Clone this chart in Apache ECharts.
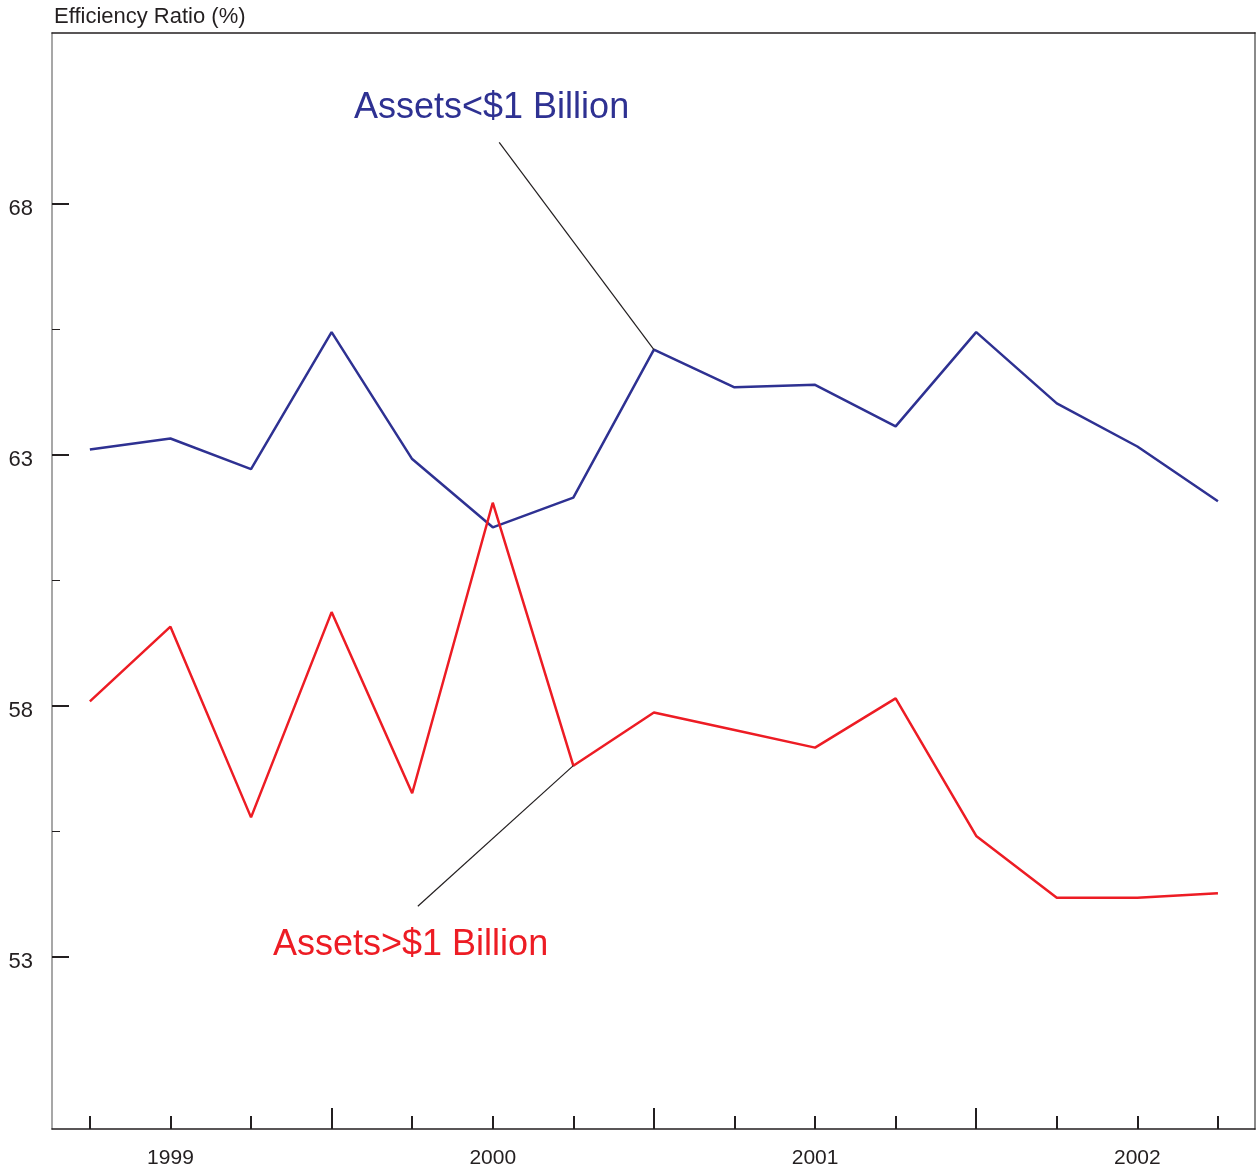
<!DOCTYPE html>
<html>
<head>
<meta charset="utf-8">
<script src="https://cdn.jsdelivr.net/npm/echarts@6/dist/echarts.min.js"></script>
<style>
html,body{margin:0;padding:0;background:#fff;}
#chart{width:1257px;height:1171px;}
</style>
</head>
<body>
<div id="chart"></div>
<script>
// Quarterly index 0 = 1998 Q4 ... 14 = 2002 Q2
const quarters = [0,1,2,3,4,5,6,7,8,9,10,11,12,13,14];
const smallBanks = [63.11,63.33,62.72,65.45,62.92,61.56,62.15,65.10,64.35,64.40,63.57,65.45,64.03,63.17,62.08];
const largeBanks = [58.09,59.58,55.78,59.87,56.26,62.05,56.81,57.87,57.52,57.17,58.15,55.41,54.18,54.18,54.27];
const yearLabels = ["1999","2000","2001","2002"];
const yearLabelPos = [1,5,9,13];
const shortTickPos = [0,1,2,4,5,6,8,9,10,12,13,14];
const longTickPos = [3,7,11];
const yMajor = [53,58,63,68];
const yMinor = [55.5,60.5,65.5];
const smallLabel = "Assets<$1 Billion";
const largeLabel = "Assets>$1 Billion";
const smallLeader = [[5.08,69.23],[7,65.10]];
const largeLeader = [[4.07,54.01],[6,56.81]];

const FONT = "'Liberation Sans', Arial, Helvetica, sans-serif";
const DARK = '#231f20';
const BLUE = '#2e3192';
const RED = '#ed1c24';
const XMIN = -0.47, XMAX = 14.46, YMIN = 49.57, YMAX = 71.41;

const chart = echarts.init(document.getElementById('chart'));
const option = {
  animation: false,
  backgroundColor: '#fff',
  title: {
    text: 'Efficiency Ratio (%)',
    left: 49, top: 1,
    textStyle: {fontFamily: FONT, fontSize: 22, fontWeight: 'normal', color: DARK}
  },
  grid: {left: 52, right: 2, top: 33, bottom: 42},
  xAxis: [
    {
      type: 'value', min: XMIN, max: XMAX, position: 'bottom',
      axisLine: {show: true, onZero: false, lineStyle: {color: DARK, width: 1.5}},
      axisTick: {show: true, inside: true, length: 13, customValues: shortTickPos, lineStyle: {color: DARK, width: 2}},
      axisLabel: {
        show: true, customValues: yearLabelPos, margin: 19,
        fontFamily: FONT, fontSize: 21, color: DARK,
        formatter: v => yearLabels[yearLabelPos.indexOf(Math.round(v))] || ''
      },
      splitLine: {show: false}
    },
    {
      type: 'value', min: XMIN, max: XMAX, position: 'bottom',
      axisLine: {show: false, onZero: false},
      axisTick: {show: true, inside: true, length: 21, customValues: longTickPos, lineStyle: {color: DARK, width: 2}},
      axisLabel: {show: false},
      splitLine: {show: false}
    },
    {
      type: 'value', min: XMIN, max: XMAX, position: 'top',
      axisLine: {show: true, onZero: false, lineStyle: {color: DARK, width: 1.5}},
      axisTick: {show: false}, axisLabel: {show: false}, splitLine: {show: false}
    }
  ],
  yAxis: [
    {
      type: 'value', min: YMIN, max: YMAX, position: 'left',
      axisLine: {show: true, onZero: false, lineStyle: {color: '#8a8a8a', width: 1.5}},
      axisTick: {show: true, inside: true, length: 17, customValues: yMajor, lineStyle: {color: DARK, width: 2}},
      axisLabel: {
        show: true, customValues: yMajor, margin: 19,
        formatter: v => '{v|' + v + '}',
        rich: {v: {fontFamily: FONT, fontSize: 22, color: DARK, padding: [10, 0, 0, 0]}}
      },
      splitLine: {show: false}
    },
    {
      type: 'value', min: YMIN, max: YMAX, position: 'left',
      axisLine: {show: false, onZero: false},
      axisTick: {show: true, inside: true, length: 8, customValues: yMinor, lineStyle: {color: DARK, width: 1}},
      axisLabel: {show: false},
      splitLine: {show: false}
    },
    {
      type: 'value', min: YMIN, max: YMAX, position: 'right',
      axisLine: {show: true, onZero: false, lineStyle: {color: '#8a8a8a', width: 2}},
      axisTick: {show: false}, axisLabel: {show: false}, splitLine: {show: false}
    }
  ],
  series: [
    {
      name: smallLabel, type: 'line', xAxisIndex: 0, yAxisIndex: 0,
      data: quarters.map((q, i) => [q, smallBanks[i]]),
      showSymbol: false, symbol: 'none',
      lineStyle: {color: BLUE, width: 2.5}, z: 3,
      markLine: {
        silent: true, symbol: ['none','none'], label: {show: false},
        lineStyle: {color: DARK, width: 1.2, type: 'solid'},
        data: [[{coord: smallLeader[0]}, {coord: smallLeader[1]}]]
      }
    },
    {
      name: largeLabel, type: 'line', xAxisIndex: 0, yAxisIndex: 0,
      data: quarters.map((q, i) => [q, largeBanks[i]]),
      showSymbol: false, symbol: 'none',
      lineStyle: {color: RED, width: 2.5}, z: 3,
      markLine: {
        silent: true, symbol: ['none','none'], label: {show: false},
        lineStyle: {color: DARK, width: 1.2, type: 'solid'},
        data: [[{coord: largeLeader[0]}, {coord: largeLeader[1]}]]
      }
    }
  ],
  graphic: [
    {type: 'text', left: 354, top: 90, style: {text: smallLabel, fill: BLUE, font: '36px ' + FONT}},
    {type: 'text', left: 273, top: 927, style: {text: largeLabel, fill: RED, font: '36px ' + FONT}}
  ]
};
chart.setOption(option);
</script>
</body>
</html>
